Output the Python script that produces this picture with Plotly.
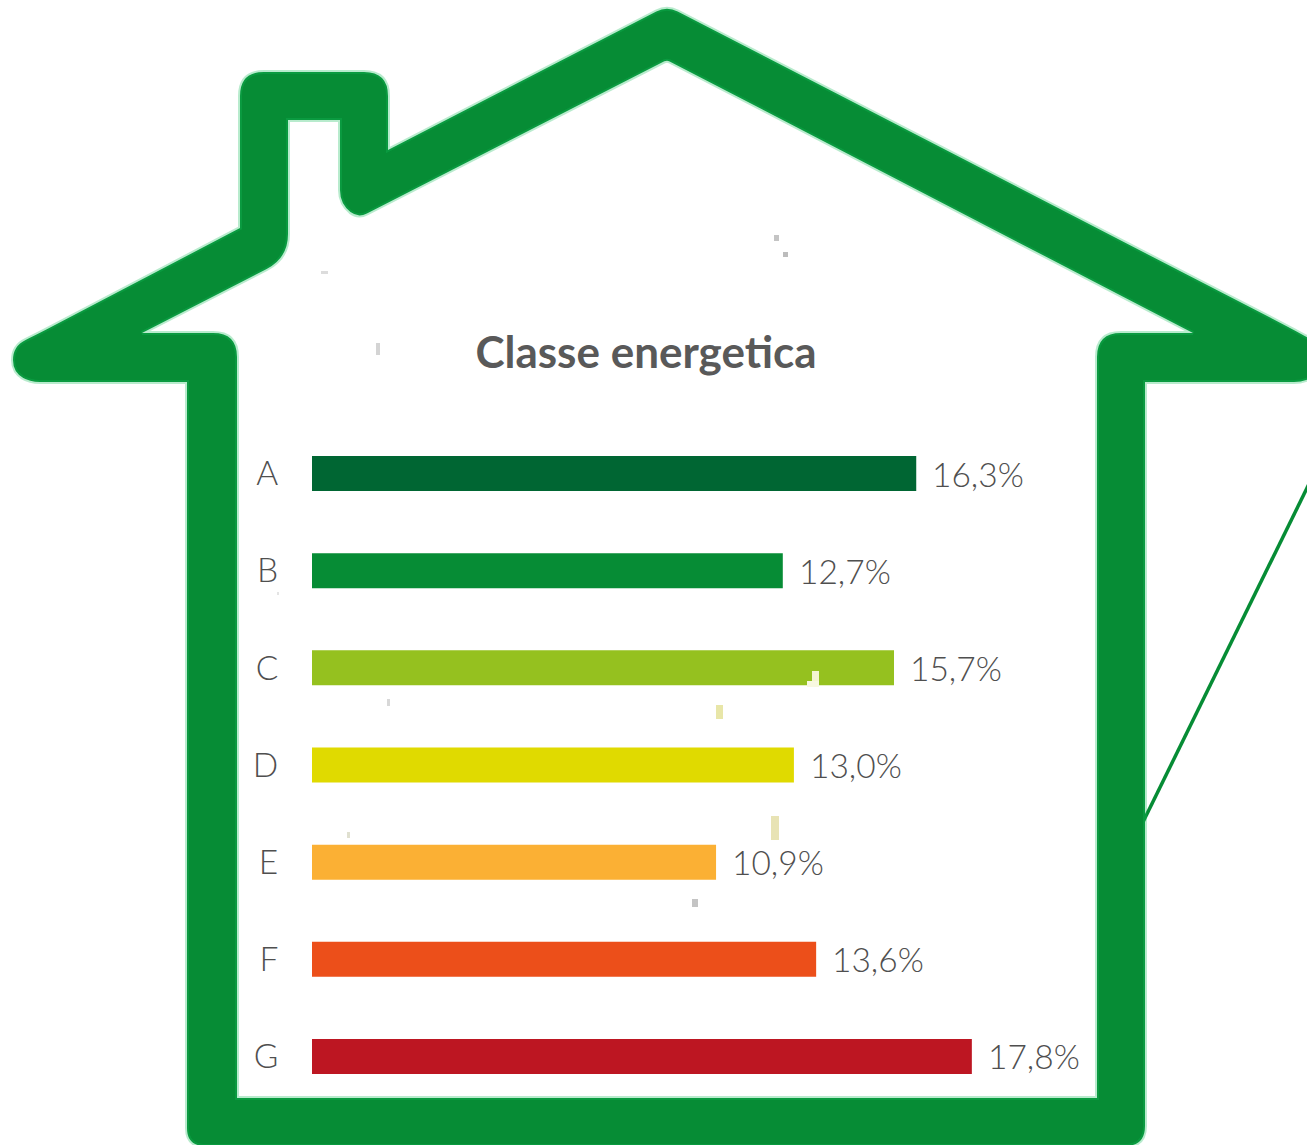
import plotly.graph_objects as go

W, H = 1307, 1145

classes = ["A", "B", "C", "D", "E", "F", "G"]
shares = [16.3, 12.7, 15.7, 13.0, 10.9, 13.6, 17.8]
labels = ["16,3%", "12,7%", "15,7%", "13,0%", "10,9%", "13,6%", "17,8%"]
colors = ["#006633", "#068c35", "#95c11f", "#e0da00", "#fbb034", "#ec4f1a", "#bd1622"]
title_text = "Classe energetica"

GREEN = "#068c35"
TEXT = "#4f4f4f"
TITLE = "#595959"
FONT = "Lato"

outer = [(667, 6, 12), (1296, 331, 10), (1321, 345, 14), (1321, 372, 12), (1304, 382, 10), (1145, 382, 0),
         (1145, 1146, 20), (187, 1146, 18), (187, 382, 0), (30, 382, 10), (13, 372, 12), (13, 346, 14),
         (38, 334, 10), (240, 228, 0), (240, 72, 24), (388, 72, 24), (388, 150, 0)]
inner = [(667, 60, 3), (1193, 333, 0), (1097, 333, 24), (1097, 1098, 0), (237, 1098, 0),
         (237, 333, 24), (142, 333, 0), (288, 258, 24), (288, 120, 0), (340, 120, 0),
         (340, 204, 14), (358, 218, 10)]
specks = [(774, 235, 5, 6, "#c4c4c4"), (783, 252, 5, 5, "#bcbcbc"), (321, 271, 7, 3, "#dcdcdc"),
          (376, 343, 4, 12, "#d4d4d4"), (277, 592, 2, 3, "#e4e4e4"), (387, 699, 3, 7, "#d8d8d8"),
          (716, 705, 7, 14, "#e8e6a8"), (812, 671, 7, 10, "#f4f4d0"), (807, 681, 12, 6, "#f8f8e0"),
          (771, 816, 8, 24, "#e8e3b4"), (347, 832, 3, 6, "#e0e0d0"), (692, 899, 6, 8, "#c4c4c4")]


def px(x, y):
    return f"{x / W:.5f},{1 - y / H:.5f}"


def rounded_path(pts):
    n = len(pts)
    parts = []
    for i, (x, y, r) in enumerate(pts):
        ax, ay, _ = pts[i - 1]
        bx, by, _ = pts[(i + 1) % n]
        if r == 0:
            parts.append(("M " if i == 0 else "L ") + px(x, y))
            continue
        da = ((ax - x) ** 2 + (ay - y) ** 2) ** 0.5
        db = ((bx - x) ** 2 + (by - y) ** 2) ** 0.5
        p1 = (x + (ax - x) * r / da, y + (ay - y) * r / da)
        p2 = (x + (bx - x) * r / db, y + (by - y) * r / db)
        parts.append(("M " if i == 0 else "L ") + px(*p1))
        parts.append("Q " + px(x, y) + " " + px(*p2))
    return " ".join(parts) + " Z"


house = rounded_path(outer) + " " + rounded_path(inner)

shapes = [
    dict(type="line", xref="paper", yref="paper", x0=1143 / W, y0=1 - 822 / H, x1=1309 / W, y1=1 - 484 / H,
         line=dict(color=GREEN, width=3.5), layer="below"),
    dict(type="path", xref="paper", yref="paper", path=house, fillcolor=GREEN, fillrule="evenodd",
         line=dict(color="rgba(20,190,90,0.3)", width=4), layer="below"),
]
for x, y, w, h, c in specks:
    shapes.append(dict(type="rect", xref="paper", yref="paper", x0=x / W, x1=(x + w) / W,
                       y0=1 - (y + h) / H, y1=1 - y / H, fillcolor=c, line=dict(width=0), layer="above"))

fig = go.Figure(go.Bar(y=classes, x=shares, orientation="h", marker=dict(color=colors, line=dict(width=0)),
                       width=0.36, hoverinfo="skip"))

annotations = [dict(x=v, y=c, xref="x", yref="y", text=t, showarrow=False, xanchor="left", xshift=14, yshift=0,
                    font=dict(family=FONT, size=33.5, color=TEXT, weight=300))
               for v, c, t in zip(shares, classes, labels)]

fig.update_layout(
    width=W, height=H, margin=dict(l=0, r=0, t=0, b=0), autosize=False,
    paper_bgcolor="white", plot_bgcolor="rgba(0,0,0,0)", showlegend=False,
    title=dict(text=f"<b>{title_text}</b>", x=646 / W, y=1 - 353 / H, xanchor="center", yanchor="middle",
               xref="paper", yref="paper", font=dict(family=FONT, size=44, color=TITLE)),
    xaxis=dict(domain=[312 / W, 1], range=[0, (W - 312) / 37.07], visible=False, fixedrange=True),
    yaxis=dict(domain=[1 - 1105 / H, 1 - 425 / H], range=[6.5, -0.5], type="category",
               categoryorder="array", categoryarray=classes, showgrid=False, showline=False, zeroline=False,
               ticks="outside", ticklen=26, tickcolor="rgba(0,0,0,0)",
               tickfont=dict(family=FONT, size=33.5, color=TEXT, weight=300), fixedrange=True),
    shapes=shapes, annotations=annotations,
)

fig.write_html("out.html", config=dict(displayModeBar=False),
               post_script="document.body.style.margin='0';"
                           "document.head.insertAdjacentHTML('beforeend',"
                           "'<style>text{font-variant-ligatures:none}</style>');")
